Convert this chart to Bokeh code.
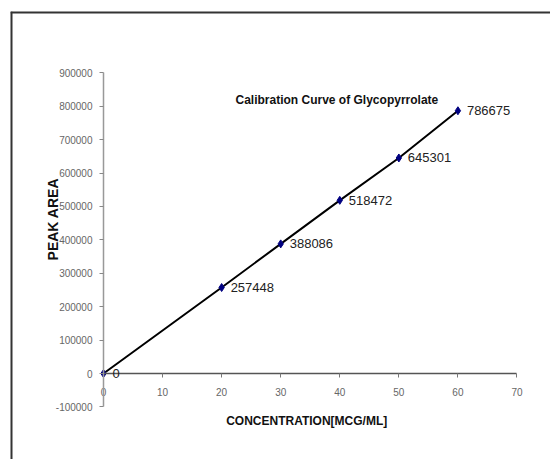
import math
from bokeh.plotting import figure
from bokeh.models import (Range1d, FixedTicker, ColumnDataSource, LabelSet, Label,
                          Span, NumeralTickFormatter)
from bokeh.embed import file_html
from bokeh.resources import INLINE
from bokeh.core.properties import value

# ---- data ----
concentration = [0, 20, 30, 40, 50, 60]
peak_area = [0, 257448, 388086, 518472, 645301, 786675]
point_labels = ["0", "257448", "388086", "518472", "645301", "786675"]
x_ticks = [0, 10, 20, 30, 40, 50, 60, 70]
y_ticks = [-100000, 0, 100000, 200000, 300000, 400000, 500000, 600000, 700000, 800000, 900000]
chart_title = "Calibration Curve of Glycopyrrolate"
x_title = "CONCENTRATION[MCG/ML]"
y_title = "PEAK AREA"

SANS = "Liberation Sans"

p = figure(width=550, height=459, output_backend="svg", toolbar_location=None,
           x_range=Range1d(-15.744, 75.674), y_range=Range1d(-257485, 1083832),
           min_border_left=10, min_border_right=0, min_border_top=11, min_border_bottom=0,
           background_fill_color="white", border_fill_color="white")
p.outline_line_color = None
p.grid.visible = False

# axes crossing at zero
p.xaxis.fixed_location = 0
p.xaxis.bounds = (x_ticks[0], x_ticks[-1])
p.xaxis.ticker = FixedTicker(ticks=x_ticks)
p.yaxis.fixed_location = 0
p.yaxis.bounds = (y_ticks[0], y_ticks[-1])
p.yaxis.ticker = FixedTicker(ticks=y_ticks)
p.yaxis.formatter = NumeralTickFormatter(format="0")
for ax in (p.xaxis, p.yaxis):
    ax.major_tick_in = 0
    ax.major_tick_out = 4
    ax.minor_tick_line_color = None
    ax.major_label_text_font = SANS
    ax.major_label_text_font_size = "10px"
    ax.major_label_text_color = "#666666"
p.xaxis.axis_line_color = "#555555"
p.xaxis.axis_line_width = 1.5
p.xaxis.major_tick_line_color = "#777777"
p.xaxis.major_label_standoff = 10
p.yaxis.axis_line_color = "#999999"
p.yaxis.axis_line_width = 1.5
p.yaxis.major_tick_line_color = "#888888"
p.yaxis.major_label_standoff = 7

# chart-area border (left and top visible)
p.add_layout(Span(location=p.x_range.start, dimension="height", line_color="#333333", line_width=4))
p.add_layout(Span(location=p.y_range.end, dimension="width", line_color="#333333", line_width=4))

src = ColumnDataSource(data=dict(x=concentration, y=peak_area, label=point_labels))
p.line("x", "y", source=src, line_color="black", line_width=2)
p.scatter("x", "y", source=src, marker="diamond", size=8,
          fill_color="#000080", line_color="#000080")
p.add_layout(LabelSet(x="x", y="y", text="label", source=src, x_offset=9,
                      text_baseline="middle", text_align="left",
                      text_font=value(SANS), text_font_size="13px", text_color="#222222"))

p.add_layout(Label(x=22.35, y=819000, text=chart_title, text_baseline="middle",
                   text_align="left", text_font=SANS, text_font_style="bold",
                   text_font_size="12px", text_color="#111111"))
p.add_layout(Label(x=34.4, y=-141000, text=x_title, text_baseline="middle",
                   text_align="center", text_font=SANS, text_font_style="bold",
                   text_font_size="12px", text_color="#111111"))
p.add_layout(Label(x=-8.63, y=462000, text=y_title, text_baseline="middle",
                   text_align="center", angle=math.pi / 2, text_font=SANS,
                   text_font_style="bold", text_font_size="14px", text_color="#111111"))

open("out.html", "w").write(file_html(p, INLINE))
